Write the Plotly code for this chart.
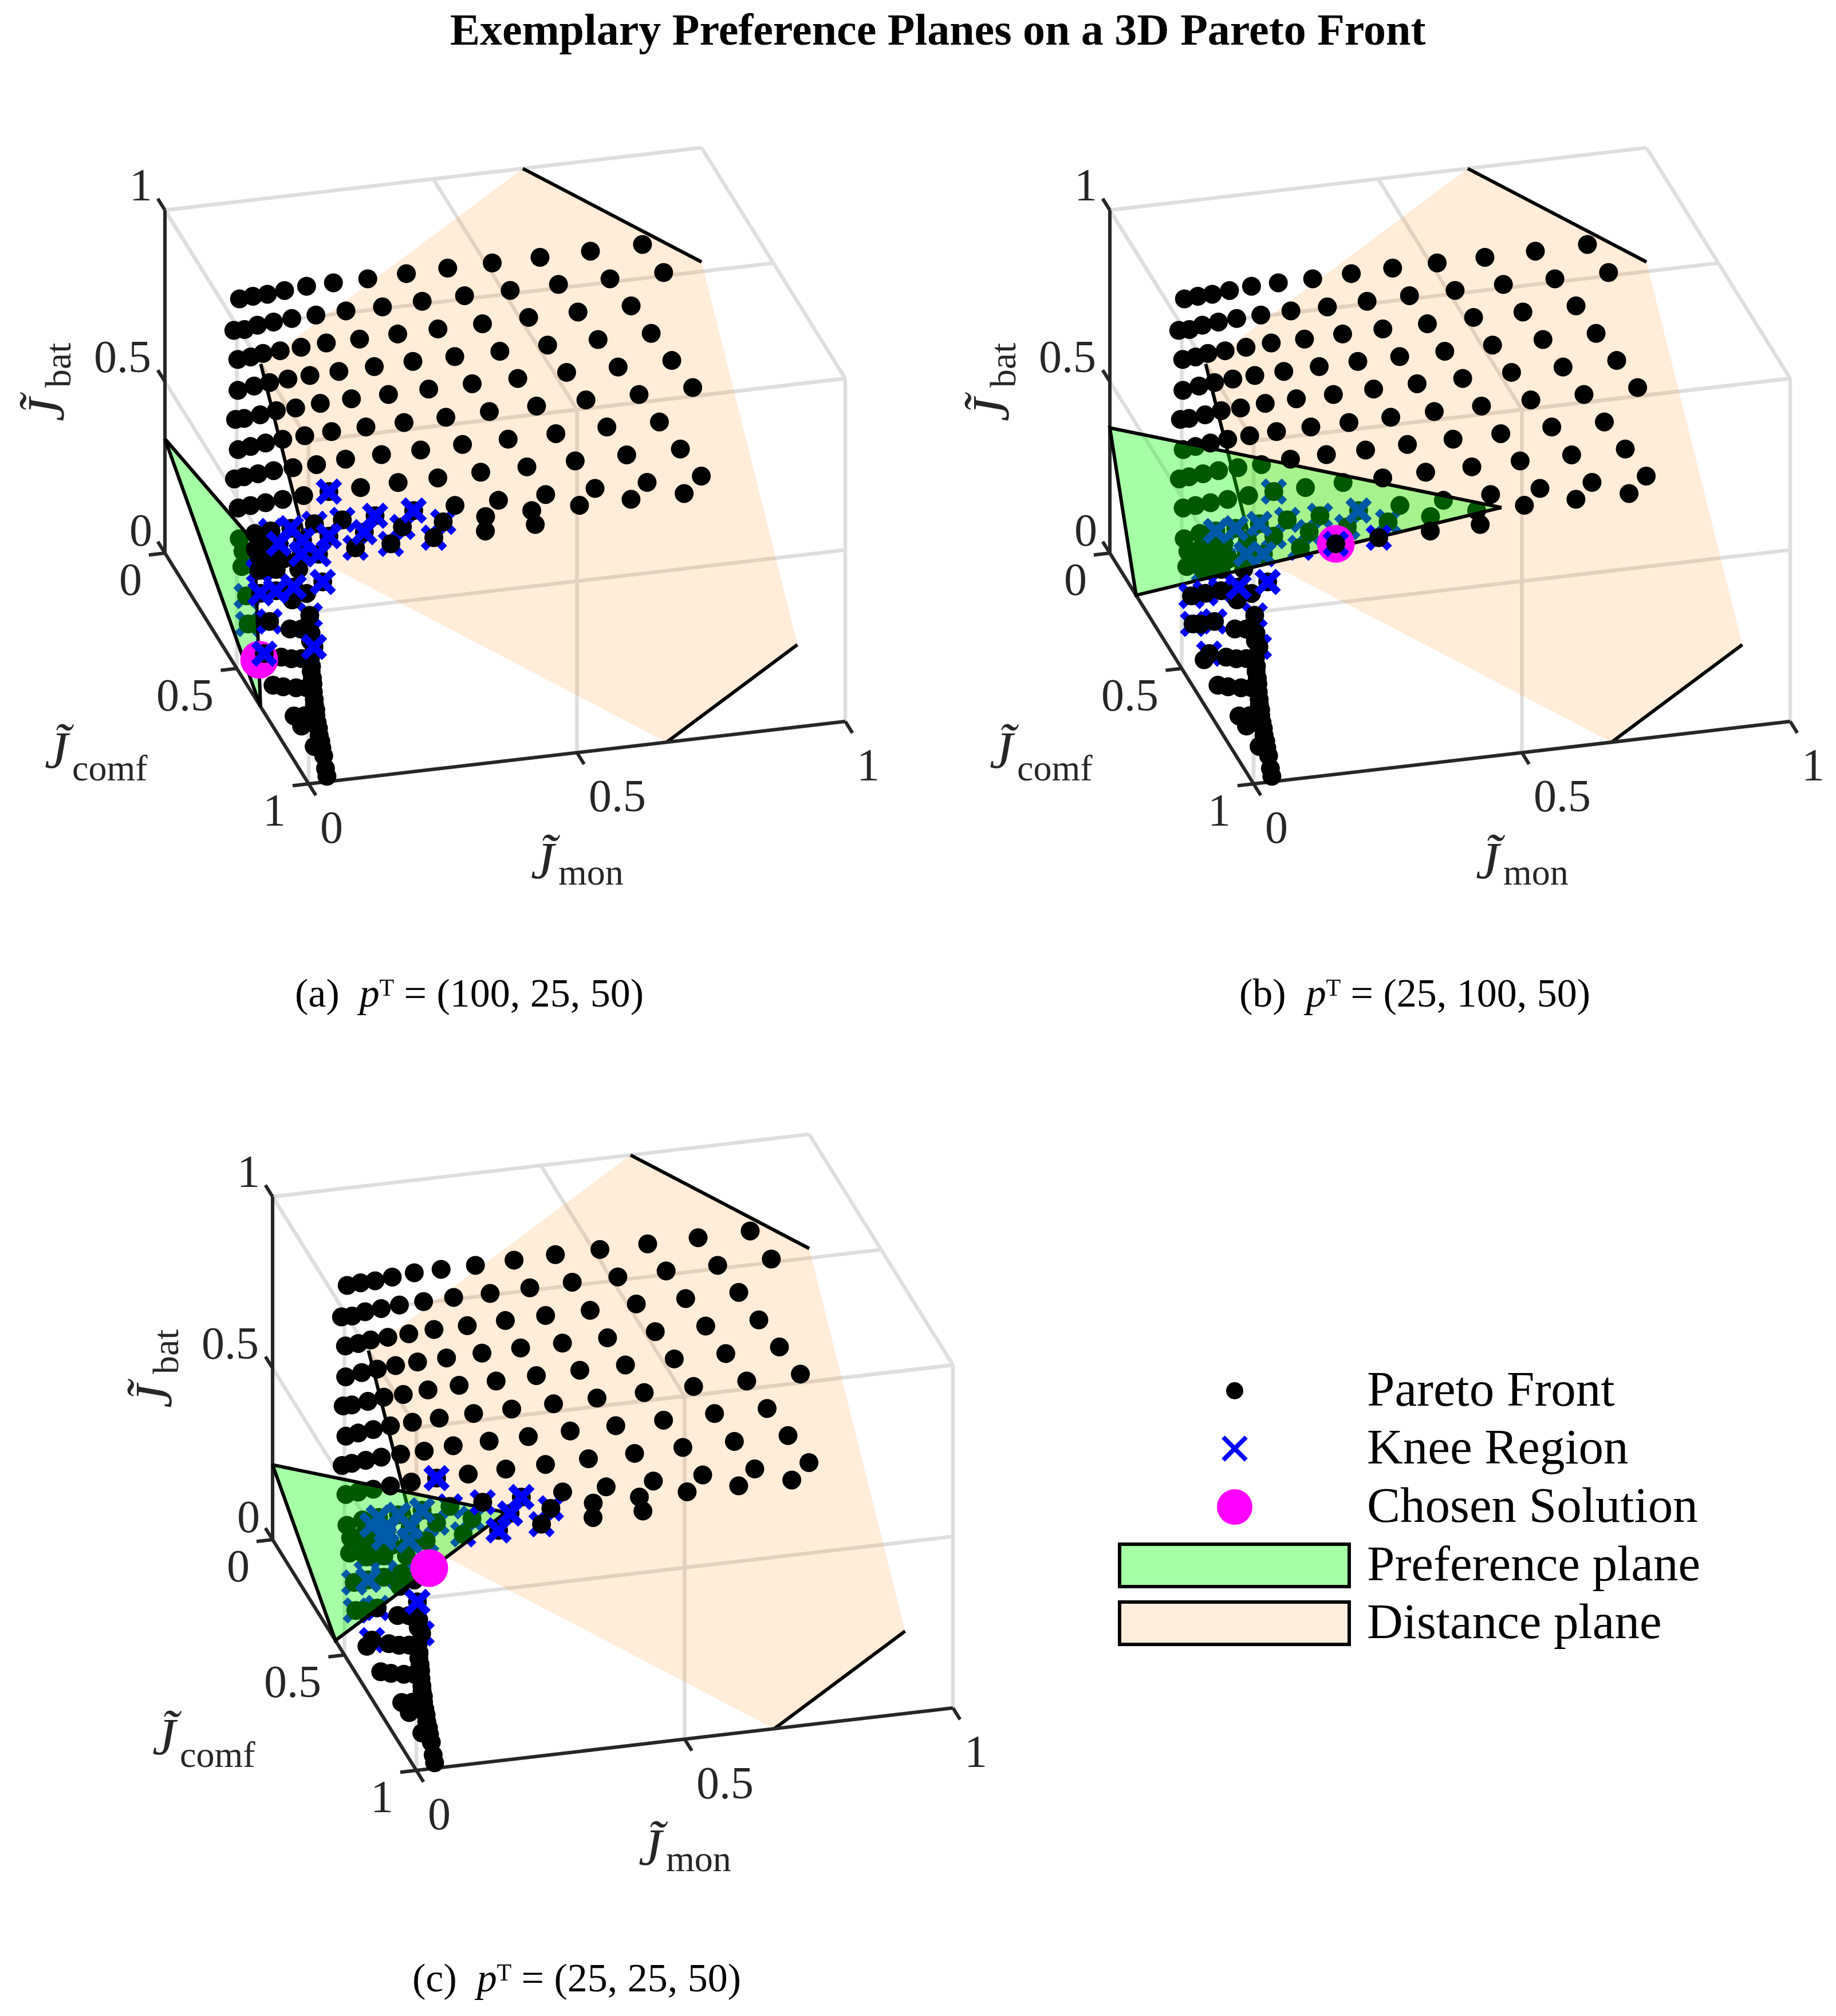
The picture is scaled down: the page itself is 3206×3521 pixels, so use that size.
import plotly.graph_objects as go

# ---------- data ----------
tick_vals = [0, 0.5, 1]
tick_text = ["0", "0.5", "1"]

pareto_mon = [
 .890,.793,.699,.610,.527,.450,.378,.314,.264,.223,.191,.164,.139,
 .916,.816,.720,.630,.545,.466,.392,.324,.268,.223,.189,.159,.135,.115,
 .842,.743,.651,.565,.482,.407,.336,.274,.227,.188,.156,.133,.109,
 .866,.767,.673,.584,.500,.422,.350,.284,.230,.189,.155,.126,.096,
 .891,.791,.695,.604,.519,.438,.363,.294,.236,.190,.154,.124,.094,.078,
 .930,.830,.731,.639,.551,.470,.392,.321,.257,.207,.166,.134,.106,.083,
 .868,.770,.675,.586,.501,.423,.350,.283,.229,.185,.149,.120,.094,.076,
 .907,.807,.711,.621,.535,.455,.381,.311,.252,.205,.166,.134,.106,.083,
 .946,.845,.748,.656,.568,.487,.410,.338,.277,.225,.181,.144,.114,.085,
 .914,.815,.719,.630,.544,.465,.389,.318,.252,.203,.159,.126,.094,.132,
 .650,.557,.461,.401,.315,.246,
 .065,.088,.117,.141,.174,.063,.088,.108,.169,.095,.127,.095,.127,
 .045,.071,.100,.130,.157,.133,.187,
 .021,.035,.061,.099,.120,.136,
 .015,.0633,.056,.075,.094,.117,
 .014,.033,.057,.077,
 .021,.035,.041,.037,
 .125,.116,.097,.091,.085,.082,.075,.069,.064,.059,.056,.051,.048,.045,.041,.040,.038,.036,.034,.034,
]
pareto_comf = [
 0,0,0,0,0,0,0,0,0,0,0,0,0,
 .05,.05,.05,.05,.05,.05,.05,.05,.05,.05,.05,.05,.05,.05,
 .1,.1,.1,.1,.1,.1,.1,.1,.1,.1,.1,.1,.1,
 .15,.15,.15,.15,.15,.15,.15,.15,.15,.15,.15,.15,.15,
 .2,.2,.2,.2,.2,.2,.2,.2,.2,.2,.2,.2,.2,.2,
 .2,.2,.2,.2,.2,.2,.2,.2,.2,.2,.2,.2,.2,.2,
 .2,.2,.2,.2,.2,.2,.2,.2,.2,.2,.2,.2,.2,.2,
 .2,.2,.2,.2,.2,.2,.2,.2,.2,.2,.2,.2,.2,.2,
 .2,.2,.2,.2,.2,.2,.2,.2,.2,.2,.2,.2,.2,.2,
 .2,.2,.2,.2,.2,.2,.2,.2,.2,.2,.2,.2,.2,.2,
 .15,.15,.15,.075,.15,.15,
 .3,.3,.3,.3,.3,.3,.3,.3,.3,.3,.3,.3,.3,
 .4,.4,.4,.4,.4,.4,.4,
 .5,.5,.5,.5,.5,.5,
 .6,.455,.6,.6,.6,.6,
 .7,.7,.7,.7,
 .82,.82,.82,.9,
 .55,.58,.65,.68,.7,.72,.75,.775,.8,.82,.84,.86,.88,.9,.92,.935,.95,.97,.99,1.0,
]
pareto_bat = [
 .738,.736,.735,.735,.735,.733,.731,.731,.730,.725,.720,.719,.716,
 .685,.685,.686,.685,.685,.683,.680,.681,.679,.677,.673,.669,.661,.662,
 .635,.635,.636,.633,.633,.632,.630,.630,.626,.623,.621,.615,.612,
 .584,.584,.585,.583,.583,.583,.581,.579,.577,.574,.570,.565,.558,
 .534,.533,.535,.534,.534,.533,.531,.531,.528,.523,.522,.515,.510,.510,
 .448,.446,.448,.447,.447,.445,.444,.444,.442,.439,.436,.431,.426,.421,
 .359,.362,.360,.360,.360,.358,.358,.357,.351,.350,.348,.344,.340,.337,
 .273,.274,.274,.273,.273,.271,.271,.269,.268,.265,.261,.257,.254,.251,
 .187,.187,.187,.186,.185,.185,.184,.182,.181,.179,.174,.173,.171,.161,
 .142,.143,.143,.144,.142,.141,.140,.138,.138,.135,.133,.124,.122,.153,
 .066,.064,.062,.0045,.059,.053,
 .195,.198,.171,.159,.168,.151,.146,.142,.124,.175,.184,.134,.131,
 .136,.139,.141,.109,.123,.146,.151,
 .126,.123,.126,.097,.093,.130,
 .090,.0015,.090,.082,.079,.109,
 .083,.075,.068,.064,
 .073,.041,.070,.035,
 .114,.113,.112,.111,.110,.105,.109,.104,.100,.099,.098,.095,.089,.086,.080,.073,.064,.055,.032,.016,
]

knee_mon = [.252,.338,.410,.465,.461,.401,.318,.315,.277,.225,.181,.144,.252,.203,.159,.132,
            .246,.174,.095,.127,.095,.127,.071,.100,.133,.187,.136,.061,.021,.045,.0633,.117,.389]
knee_comf = [.2,.2,.2,.2,.15,.075,.2,.15,.2,.2,.2,.2,.2,.2,.2,.2,
             .15,.3,.3,.3,.3,.3,.4,.4,.4,.4,.5,.5,.5,.4,.455,.6,.2]
knee_bat = [.268,.182,.184,.141,.062,.0045,.138,.059,.181,.179,.174,.173,.138,.135,.133,.153,
            .053,.168,.175,.184,.134,.131,.139,.141,.146,.151,.130,.126,.126,.136,.0015,.109,.140]

# knee points whose cross lies over the Pareto dot, per panel
knee_on_top = {"a": [0, 1, 2, 6, 10, 12, 13, 14, 16, 17, 22, 23, 24, 25, 30, 31],
               "b": [2, 9, 10, 11, 16, 17, 24, 25],
               "c": [0, 2, 5, 9, 10, 11, 13, 14, 15, 17, 19, 22, 26, 32]}
# knee points that sit in front of the chosen solution and the preference plane
knee_front = {"a": [30], "b": [4, 5], "c": []}

chosen_mon = {"a": .015, "b": .401, "c": .241}
chosen_comf = {"a": .6, "b": .075, "c": .19}
chosen_bat = {"a": .090, "b": .0045, "c": .001}

pref_mon = {"a": [.167, 0, 0], "b": [.73, 0, 0], "c": [.435, 0, 0]}
pref_comf = {"a": [0, .665, 0], "b": [0, .1825, 0], "c": [0, .437, 0]}
pref_bat = {"a": [0, 0, .333], "b": [0, 0, .365], "c": [0, 0, .218]}

dist_mon = [.667, 1, 1, .667, 0, 0]
dist_comf = [0, 0, .667, 1, 1, .667]
dist_bat = [1, .667, 0, 0, .667, 1]

captions = {"a": "(a)  <i>p</i>ᵀ = (100, 25, 50)",
            "b": "(b)  <i>p</i>ᵀ = (25, 100, 50)",
            "c": "(c)  <i>p</i>ᵀ = (25, 25, 50)"}
legend_labels = ["Pareto Front", "Knee Region", "Chosen Solution", "Preference plane", "Distance plane"]

# ---------- layout constants ----------
W, H = 3206, 3521
FONT = "Liberation Serif"
TXT = "#262626"
GRID = "#dedede"
origins = {"a": (280, 958), "b": (1930, 958), "c": (468, 2681)}
MON_VEC = (937, -109)
COMF_VEC = (251, 403)
BAT_VEC = (0, -599)


def project(key, m, c, b):
    ox, oy = origins[key]
    return (ox + MON_VEC[0] * m + COMF_VEC[0] * c + BAT_VEC[0] * b,
            oy + MON_VEC[1] * m + COMF_VEC[1] * c + BAT_VEC[1] * b)


def project_all(key, ms, cs, bs):
    pts = [project(key, m, c, b) for m, c, b in zip(ms, cs, bs)]
    return [p[0] for p in pts], [p[1] for p in pts]


def px(x):
    return x / W


def py(y):
    return 1 - y / H


fig = go.Figure()


def add(**kw):
    kw.setdefault("showlegend", False)
    kw.setdefault("hoverinfo", "skip")
    fig.add_trace(go.Scatter(**kw))


def segments(key, segs):
    xs, ys = [], []
    for p, q in segs:
        a = project(key, *p)
        d = project(key, *q)
        xs += [a[0], d[0], None]
        ys += [a[1], d[1], None]
    return xs, ys


def in_triangle(p, tri):
    (x, y), (x1, y1), (x2, y2), (x3, y3) = p, tri[0], tri[1], tri[2]
    den = (y2 - y3) * (x1 - x3) + (x3 - x2) * (y1 - y3)
    a = ((y2 - y3) * (x - x3) + (x3 - x2) * (y - y3)) / den
    b = ((y3 - y1) * (x - x3) + (x1 - x3) * (y - y3)) / den
    return a >= 0 and b >= 0 and a + b <= 1


def draw_points(key, pmask, kmask):
    """Knee crosses under the dots, the dots, knee crosses over the dots."""
    top = set(knee_on_top[key])
    kx, ky = project_all(key, knee_mon, knee_comf, knee_bat)
    px_, py_ = project_all(key, pareto_mon, pareto_comf, pareto_bat)
    knee_marker = dict(symbol="x-thin", size=37, color="rgb(0,0,255)", line=dict(color="rgb(0,0,255)", width=13))
    under = [i for i in range(len(kx)) if kmask[i] and i not in top]
    over = [i for i in range(len(kx)) if kmask[i] and i in top]
    add(x=[kx[i] for i in under], y=[ky[i] for i in under], mode="markers", marker=knee_marker, name="Knee Region")
    idx = [i for i in range(len(px_)) if pmask[i]]
    add(x=[px_[i] for i in idx], y=[py_[i] for i in idx], mode="markers", name="Pareto Front",
        marker=dict(color="black", size=33, line=dict(width=0)))
    add(x=[kx[i] for i in over], y=[ky[i] for i in over], mode="markers", marker=knee_marker, name="Knee Region")


annots = []
label_font = dict(family=FONT, size=80, color=TXT)
j_font = dict(family=FONT, size=92, color=TXT)
sub_font = dict(family=FONT, size=64, color=TXT)
for key in ["a", "b", "c"]:
    ox, oy = origins[key]
    # light grid on the three far faces of the box
    segs = []
    for t in tick_vals:
        segs += [((0, 0, t), (0, 1, t)), ((0, t, 0), (0, t, 1)),
                 ((t, 1, 0), (t, 1, 1)), ((0, 1, t), (1, 1, t)),
                 ((t, 0, 1), (t, 1, 1)), ((0, t, 1), (1, t, 1))]
    xs, ys = segments(key, segs)
    add(x=xs, y=ys, mode="lines", line=dict(color=GRID, width=6.5))
    # distance plane
    dx, dy = project_all(key, dist_mon, dist_comf, dist_bat)
    add(x=dx + dx[:1], y=dy + dy[:1], mode="lines", fill="toself", line=dict(width=0),
        fillcolor="rgba(255,128,0,0.15)", name="Distance plane")
    segs = [((dist_mon[a], dist_comf[a], dist_bat[a]), (dist_mon[d], dist_comf[d], dist_bat[d]))
            for a, d in [(0, 1), (2, 3), (4, 5)]]
    xs, ys = segments(key, segs)
    add(x=xs, y=ys, mode="lines", line=dict(color="black", width=6))
    # dark axes and ticks
    segs = [((0, 0, 0), (0, 0, 1)), ((0, 0, 0), (0, 1, 0)), ((0, 1, 0), (1, 1, 0))]
    for t in tick_vals:
        segs += [((0, 0, t), (0, -.05, t)), ((0, t, 0), (-.03, t, 0)), ((t, 1, 0), (t, 1.05, 0))]
    xs, ys = segments(key, segs)
    add(x=xs, y=ys, mode="lines", line=dict(color=TXT, width=6))
    # tick labels
    offs = {0: (-42, -40), .5: (-74, -44), 1: (-42, -44)}
    for t, s in zip(tick_vals, tick_text):
        p = project(key, 0, 0, t)
        annots.append(dict(x=px(p[0] + offs[t][0]), y=py(p[1] + offs[t][1]), text=s, font=label_font))
    offs = {0: (-60, 46), .5: (-91, 46), 1: (-60, 46)}
    for t, s in zip(tick_vals, tick_text):
        p = project(key, 0, t, 0)
        annots.append(dict(x=px(p[0] + offs[t][0]), y=py(p[1] + offs[t][1]), text=s, font=label_font))
    offs = {0: (40, 76), .5: (70, 76), 1: (40, 76)}
    for t, s in zip(tick_vals, tick_text):
        p = project(key, t, 1, 0)
        annots.append(dict(x=px(p[0] + offs[t][0]), y=py(p[1] + offs[t][1]), text=s, font=label_font))

    # split the marks: under the preference plane, beside it, in front of the chosen solution
    tx, ty = project_all(key, pref_mon[key], pref_comf[key], pref_bat[key])
    tri = list(zip(tx, ty))
    front_set = {(knee_mon[i], knee_comf[i], knee_bat[i]) for i in knee_front[key]}
    p_xy = project_all(key, pareto_mon, pareto_comf, pareto_bat)
    k_xy = project_all(key, knee_mon, knee_comf, knee_bat)
    p_front = [(pareto_mon[i], pareto_comf[i], pareto_bat[i]) in front_set for i in range(len(pareto_mon))]
    k_front = [i in knee_front[key] for i in range(len(knee_mon))]
    p_in = [in_triangle((p_xy[0][i], p_xy[1][i]), tri) and not p_front[i] for i in range(len(pareto_mon))]
    k_in = [in_triangle((k_xy[0][i], k_xy[1][i]), tri) and not k_front[i] for i in range(len(knee_mon))]
    p_out = [not (p_in[i] or p_front[i]) for i in range(len(pareto_mon))]
    k_out = [not (k_in[i] or k_front[i]) for i in range(len(knee_mon))]

    draw_points(key, p_in, k_in)
    add(x=tx + tx[:1], y=ty + ty[:1], mode="lines", fill="toself", fillcolor="rgba(0,255,0,0.35)",
        line=dict(color="black", width=6), name="Preference plane")
    draw_points(key, p_out, k_out)
    cx, cy = project(key, chosen_mon[key], chosen_comf[key], chosen_bat[key])
    add(x=[cx], y=[cy], mode="markers", name="Chosen Solution",
        marker=dict(color="rgb(255,0,255)", size=66, line=dict(width=0)))
    draw_points(key, p_front, k_front)

    tilde = "<i>J̃</i>"
    annots += [
        dict(x=px(ox + 665), y=py(oy + 537), text=tilde, font=j_font),
        dict(x=px(ox + 744), y=py(oy + 557), text="mon", font=sub_font),
        dict(x=px(ox - 184), y=py(oy + 344), text=tilde, font=j_font),
        dict(x=px(ox - 96), y=py(oy + 375), text="comf", font=sub_font),
        dict(x=px(ox - 208), y=py(oy - 256), text=tilde, font=j_font, textangle=-90),
        dict(x=px(ox - 187), y=py(oy - 328), text="bat", font=sub_font, textangle=-90),
    ]

cap_pos = {"a": (812, 1726), "b": (2462, 1726), "c": (999, 3446)}
for key, (x, y) in cap_pos.items():
    annots.append(dict(x=px(x), y=py(y), text=captions[key], font=dict(family=FONT, size=70, color="black")))

annots.append(dict(x=px(1629), y=py(43), text="<b>Exemplary Preference Planes on a 3D Pareto Front</b>",
                   font=dict(family=FONT, size=78, color="black")))

# legend
legend_y = [2421, 2522, 2624, 2726, 2827]
add(x=[2148], y=[legend_y[0]], mode="markers", marker=dict(color="black", size=30))
add(x=[2148], y=[legend_y[1]], mode="markers",
    marker=dict(symbol="x-thin", size=40, line=dict(color="rgb(0,0,255)", width=8)))
add(x=[2148], y=[legend_y[2]], mode="markers", marker=dict(color="rgb(255,0,255)", size=62))
shapes = []
for yc, col in [(legend_y[3], "#a6ffa6"), (legend_y[4], "#fdeddc")]:
    shapes.append(dict(type="rect", xref="x", yref="y", x0=1947, x1=2348, y0=yc - 37, y1=yc + 37,
                       fillcolor=col, line=dict(color="black", width=6)))
for yc, lab in zip(legend_y, legend_labels):
    annots.append(dict(x=px(2377), y=py(yc - 4), text=lab, xanchor="left",
                       font=dict(family=FONT, size=87, color="black")))

for a in annots:
    a.setdefault("xref", "paper")
    a.setdefault("yref", "paper")
    a.setdefault("showarrow", False)
    a.setdefault("xanchor", "center")
    a.setdefault("yanchor", "middle")

fig.update_layout(width=W, height=H, margin=dict(l=0, r=0, t=0, b=0), paper_bgcolor="white",
                  plot_bgcolor="rgba(0,0,0,0)", showlegend=False, annotations=annots, shapes=shapes,
                  xaxis=dict(domain=[0, 1], range=[0, W], visible=False, fixedrange=True),
                  yaxis=dict(domain=[0, 1], range=[H, 0], visible=False, fixedrange=True))
fig.write_html("out.html")
